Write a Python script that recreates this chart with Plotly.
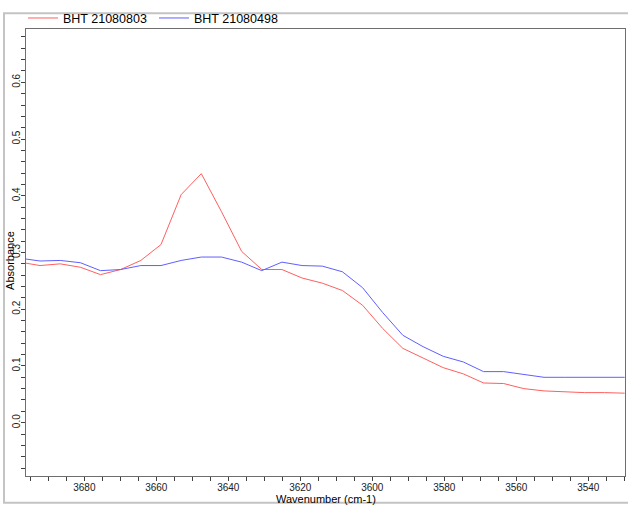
import plotly.graph_objects as go

wavenumber = [3697.9, 3692.3, 3686.7, 3681.1, 3675.5, 3669.9, 3664.3, 3658.7, 3653.1,
              3647.5, 3641.9, 3636.3, 3630.7, 3625.1, 3619.5, 3613.9, 3608.3, 3602.7,
              3597.1, 3591.5, 3585.9, 3580.3, 3574.7, 3569.1, 3563.5, 3557.9, 3552.3,
              3546.7, 3541.1, 3535.5, 3529.9]

bht_21080803 = [0.283, 0.277, 0.280, 0.274, 0.261, 0.270, 0.286, 0.314, 0.402,
                0.439, 0.372, 0.302, 0.270, 0.270, 0.255, 0.246, 0.233, 0.207,
                0.166, 0.131, 0.114, 0.097, 0.086, 0.070, 0.069, 0.060, 0.056,
                0.054, 0.053, 0.053, 0.052]

bht_21080498 = [0.290, 0.285, 0.286, 0.282, 0.268, 0.270, 0.277, 0.277, 0.286,
                0.292, 0.292, 0.283, 0.268, 0.283, 0.277, 0.276, 0.266, 0.238,
                0.194, 0.154, 0.134, 0.117, 0.107, 0.090, 0.090, 0.085, 0.080,
                0.080, 0.080, 0.081, 0.080]

series_names = ["BHT 21080803", "BHT 21080498"]
x_title = "Wavenumber (cm-1)"
y_title = "Absorbance"

FONT = "Arial, 'Liberation Sans', sans-serif"
W, H = 628, 506
ML, MR, MT, MB = 26, 3, 23, 30
PW, PH = W - ML - MR, H - MT - MB


def px_to_paper_x(px):
    return (px - ML) / PW


def px_to_paper_y(py):
    return (H - MB - py) / PH


fig = go.Figure()
fig.add_trace(go.Scatter(x=wavenumber, y=bht_21080803, mode="lines", name=series_names[0],
                         line=dict(color="#ff5f5f", width=1)))
fig.add_trace(go.Scatter(x=wavenumber, y=bht_21080498, mode="lines", name=series_names[1],
                         line=dict(color="#5f5fff", width=1)))

axis_common = dict(showgrid=False, zeroline=False, showline=True, linecolor="#6e6e6e",
                   linewidth=1, mirror=True, ticks="outside", ticklen=4, tickwidth=1,
                   tickcolor="#404040", tickfont=dict(family=FONT, size=10, color="#202020"))

fig.update_layout(
    width=W, height=H,
    margin=dict(l=ML, r=MR, t=MT, b=MB),
    paper_bgcolor="white", plot_bgcolor="white",
    font=dict(family=FONT, size=12, color="#000000"),
    xaxis=dict(range=[3696.2, 3529.8], tick0=3680, dtick=20, ticklabelstandoff=-2,
               minor=dict(dtick=5, ticks="outside", ticklen=4, tickcolor="#404040", showgrid=False),
               **axis_common),
    yaxis=dict(range=[-0.094, 0.694], tick0=0, dtick=0.1, tickformat=".1f", tickangle=-90,
               ticklabelstandoff=-3,
               minor=dict(dtick=0.02, ticks="outside", ticklen=4, tickcolor="#404040", showgrid=False),
               **axis_common),
    showlegend=True,
    legend=dict(orientation="h", x=px_to_paper_x(23), y=px_to_paper_y(-3), xanchor="left",
                yanchor="top", bgcolor="rgba(0,0,0,0)", font=dict(family=FONT, size=12.5, color="#000"),
                tracegroupgap=0, entrywidth=86, entrywidthmode="pixels"),
    shapes=[dict(type="rect", xref="paper", yref="paper",
                 x0=px_to_paper_x(4), x1=px_to_paper_x(640),
                 y0=px_to_paper_y(503), y1=px_to_paper_y(7),
                 line=dict(color="#c4c4c4", width=2), layer="below")],
    annotations=[
        dict(text=y_title, textangle=-90, xref="paper", yref="paper",
             x=px_to_paper_x(10), y=px_to_paper_y(258), showarrow=False,
             xanchor="center", yanchor="middle", font=dict(family=FONT, size=11, color="#000")),
        dict(text=x_title, xref="paper", yref="paper",
             x=px_to_paper_x(326), y=px_to_paper_y(499.5), showarrow=False,
             xanchor="center", yanchor="middle", font=dict(family=FONT, size=11, color="#000")),
    ],
)

fig.write_html("out.html")
